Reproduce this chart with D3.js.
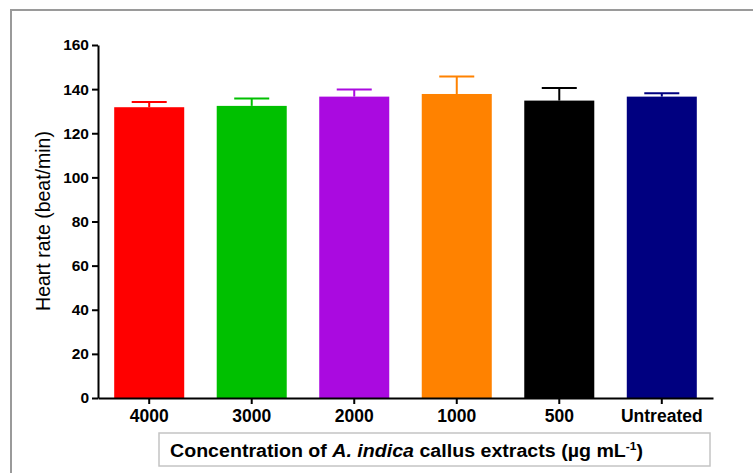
<!DOCTYPE html>
<html lang="en">
<head>
  <meta charset="UTF-8">
  <title>Heart rate</title>
  <style>
    body {
      margin: 0;
      background: #fff;
      font-family: Arial, "Liberation Sans", Helvetica, sans-serif;
    }
    .axis path, .axis line {
      stroke: #000;
      stroke-width: 2px;
    }
    .axis text {
      font-family: Arial, "Liberation Sans", sans-serif;
      font-weight: bold;
      fill: #000;
    }
    .frame {
      stroke: #9a9a9a;
      stroke-width: 2px;
      fill: none;
    }
    .labelbox {
      fill: #fff;
      stroke: #c4c4c4;
      stroke-width: 1.5px;
    }
  </style>
</head>
<body>
  <script src="https://d3js.org/d3.v7.min.js"></script>
  <script type="text/javascript">
const categories = ['4000', '3000', '2000', '1000', '500', 'Untreated']
const means = [131.8, 132.4, 136.6, 137.8, 134.8, 136.6]
const errors = [2.4, 3.4, 3.2, 7.9, 5.7, 1.5]
const colors = ['#ff0000', '#00c000', '#aa0ae0', '#ff8200', '#000000', '#000080']
const yTicks = [0, 20, 40, 60, 80, 100, 120, 140, 160]

const width = 753
const height = 473

const svg = d3.select('body').append('svg')
  .attr('width', width)
  .attr('height', height)

// outer frame (only top and left edges fall inside the picture)
svg.append('path')
  .attr('class', 'frame')
  .attr('d', 'M11,' + height + 'V10H' + width)

const x = d3.scaleBand()
  .domain(categories)
  .range([98, 713])
  .paddingInner(0.317)
  .paddingOuter(0.158)

const y = d3.scaleLinear()
  .domain([0, 160])
  .range([398, 45])

const data = categories.map((c, i) => ({ cat: c, mean: means[i], err: errors[i], color: colors[i] }))

// bars
svg.append('g').selectAll('rect')
  .data(data)
  .enter().append('rect')
  .attr('x', d => x(d.cat))
  .attr('y', d => y(d.mean))
  .attr('width', x.bandwidth())
  .attr('height', d => y(0) - y(d.mean))
  .attr('fill', d => d.color)

// upper error bars
const err = svg.append('g').selectAll('g')
  .data(data)
  .enter().append('g')
  .attr('stroke', d => d.color)
  .attr('stroke-width', 2)

err.append('line')
  .attr('x1', d => x(d.cat) + x.bandwidth() / 2)
  .attr('x2', d => x(d.cat) + x.bandwidth() / 2)
  .attr('y1', d => y(d.mean))
  .attr('y2', d => y(d.mean + d.err))

err.append('line')
  .attr('x1', d => x(d.cat) + x.bandwidth() / 4)
  .attr('x2', d => x(d.cat) + x.bandwidth() * 3 / 4)
  .attr('y1', d => y(d.mean + d.err))
  .attr('y2', d => y(d.mean + d.err))

// axes
svg.append('g')
  .attr('class', 'axis axis--y')
  .attr('transform', 'translate(98,0)')
  .call(d3.axisLeft(y).tickValues(yTicks).tickSize(6).tickSizeOuter(0).tickPadding(3))
  .selectAll('text')
  .style('font-size', '15.5px')

svg.append('g')
  .attr('class', 'axis axis--x')
  .attr('transform', 'translate(0,398)')
  .call(d3.axisBottom(x).tickSize(6).tickSizeOuter(0).tickPadding(6))
  .selectAll('text')
  .style('font-size', '17.5px')

// y title
svg.append('text')
  .attr('transform', 'translate(50,221) rotate(-90)')
  .attr('text-anchor', 'middle')
  .style('font-size', '19.5px')
  .text('Heart rate (beat/min)')

// x title in its box
svg.append('rect')
  .attr('class', 'labelbox')
  .attr('x', 159)
  .attr('y', 433)
  .attr('width', 551)
  .attr('height', 33)

const xt = svg.append('text')
  .attr('x', 170)
  .attr('y', 457)
  .attr('textLength', 473)
  .attr('lengthAdjust', 'spacingAndGlyphs')
  .style('font-size', '18px')
  .style('font-weight', 'bold')
xt.append('tspan').text('Concentration of ')
xt.append('tspan').style('font-style', 'italic').text('A. indica')
xt.append('tspan').text(' callus extracts (\u00b5g mL')
xt.append('tspan').attr('dy', -7).style('font-size', '11px').text('-1')
xt.append('tspan').attr('dy', 7).text(')')
  </script>
</body>
</html>
